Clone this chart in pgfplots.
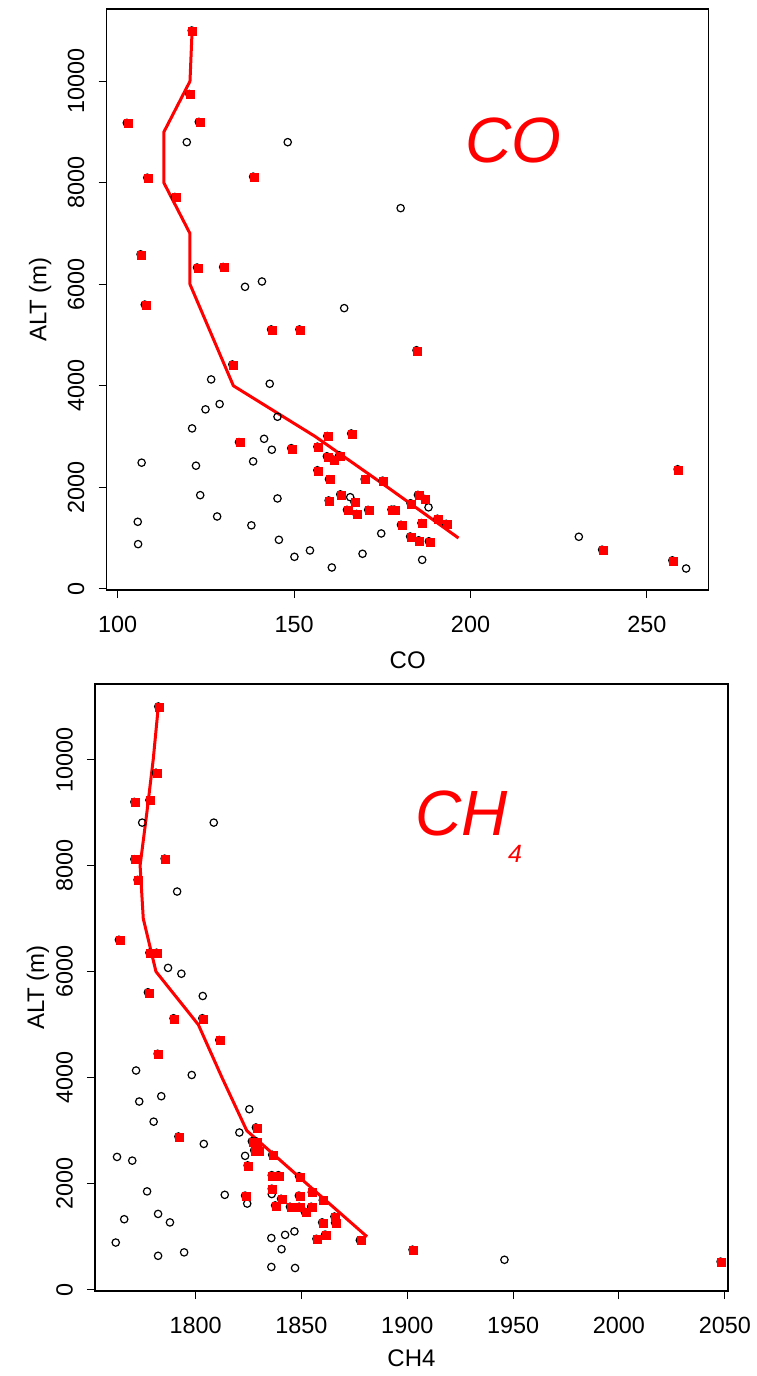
\documentclass[border=0pt]{standalone}
\usepackage{fontspec}
\setmainfont{Liberation Sans}
\usepackage{pgfplots}
\usepackage{pgfplotstable}
\pgfplotsset{compat=1.18}

% top panel: CO (ppb) against altitude
\pgfplotstableread{
x y
121.0 11000
120.3 9750
102.6 9180
123.0 9200
119.6 8800
148.2 8800
108.4 8100
138.4 8120
180.2 7500
116.2 7720
106.5 6590
122.5 6330
129.9 6340
140.9 6055
136.1 5950
107.7 5600
164.2 5530
143.5 5110
151.5 5110
184.7 4700
132.5 4420
126.5 4125
143.1 4040
128.9 3640
124.9 3535
145.3 3390
121.1 3160
159.4 3010
166.2 3060
134.4 2890
141.5 2955
143.7 2740
149.2 2770
156.6 2800
159.3 2610
161.1 2545
162.8 2630
106.8 2485
122.2 2425
138.4 2510
156.6 2335
159.9 2160
170.0 2160
175.1 2130
163.1 1860
165.9 1805
167.1 1710
145.3 1780
123.4 1845
159.8 1740
183.0 1685
185.1 1850
187.0 1770
188.1 1605
165.0 1555
167.7 1475
171.0 1555
177.6 1560
178.4 1560
128.2 1425
105.7 1320
137.9 1250
180.3 1260
186.1 1295
190.6 1380
193.1 1280
174.7 1090
105.8 880
145.7 965
182.9 1030
185.3 955
188.2 935
154.5 755
150.1 630
169.4 690
160.7 420
186.3 570
230.7 1025
237.3 770
257.2 560
261.1 400
258.7 2355
}\coall

\pgfplotstableread{
x y
121.0 11000
120.3 9750
102.6 9180
123.0 9200
108.4 8100
138.4 8120
116.2 7720
106.5 6590
122.5 6330
129.9 6340
107.7 5600
143.5 5110
151.5 5110
184.7 4700
132.5 4420
159.4 3010
166.2 3060
134.4 2890
149.2 2770
156.6 2800
159.3 2610
161.1 2545
162.8 2630
156.6 2335
159.9 2160
170.0 2160
175.1 2130
163.1 1860
167.1 1710
159.8 1740
183.0 1685
185.1 1850
187.0 1770
165.0 1555
167.7 1475
171.0 1555
177.6 1560
178.4 1560
180.3 1260
186.1 1295
190.6 1380
193.1 1280
182.9 1030
185.3 955
188.2 935
237.3 770
257.2 560
258.7 2355
}\cosq

\pgfplotstableread{
x y
196.6 1000
176.5 2000
156.0 3000
132.8 4000
120.5 6000
120.5 7000
113.1 8000
113.1 9000
120.5 10000
121.1 11000
}\coline

% bottom panel: CH4 (ppb) against altitude
\pgfplotstableread{
x y
1782.4 11000
1781.3 9750
1771.1 9200
1778.2 9235
1774.8 8810
1808.6 8810
1771.1 8120
1785.4 8130
1772.6 7730
1791.3 7510
1763.8 6600
1778.2 6355
1781.6 6355
1787.0 6070
1793.3 5960
1777.5 5610
1803.4 5540
1789.6 5120
1803.2 5120
1811.2 4710
1782.1 4450
1771.9 4135
1798.2 4050
1773.4 3550
1783.8 3650
1825.4 3405
1780.2 3170
1820.7 2965
1828.5 3060
1791.9 2890
1803.9 2750
1826.6 2800
1828.5 2800
1827.7 2630
1829.8 2630
1824.6 2345
1823.4 2525
1762.9 2505
1770.1 2435
1836.2 2545
1848.9 2140
1836.0 2160
1839.1 2160
1836.0 1905
1836.0 1805
1813.8 1790
1823.4 1775
1824.4 1625
1777.1 1855
1840.4 1715
1848.8 1775
1854.9 1840
1860.1 1690
1837.6 1590
1844.6 1565
1848.9 1565
1851.6 1470
1854.6 1565
1865.6 1380
1865.9 1265
1859.8 1270
1766.3 1330
1782.3 1430
1787.9 1270
1762.3 890
1782.3 640
1794.6 705
1835.8 975
1842.3 1035
1846.7 1100
1840.6 765
1835.8 430
1847.0 410
1857.1 960
1861.2 1040
1877.6 935
1902.5 755
1945.9 565
2048.0 530
}\chall

\pgfplotstableread{
x y
1782.4 11000
1781.3 9750
1771.1 9200
1778.2 9235
1771.1 8120
1785.4 8130
1772.6 7730
1763.8 6600
1778.2 6355
1781.6 6355
1777.5 5610
1789.6 5120
1803.2 5120
1811.2 4710
1782.1 4450
1828.5 3060
1791.9 2890
1826.6 2800
1828.5 2800
1827.7 2630
1829.8 2630
1824.6 2345
1836.2 2545
1848.9 2140
1836.0 2160
1839.1 2160
1836.0 1905
1823.4 1775
1840.4 1715
1848.8 1775
1854.9 1840
1860.1 1690
1837.6 1590
1844.6 1565
1848.9 1565
1851.6 1470
1854.6 1565
1865.6 1380
1865.9 1265
1859.8 1270
1857.1 960
1861.2 1040
1877.6 935
1902.5 755
2048.0 530
}\chsq

\pgfplotstableread{
x y
1881.0 1000
1852.5 2000
1824.2 3000
1812.5 4000
1801.3 5000
1781.3 6000
1775.3 7000
1773.8 8000
1777.0 9000
1780.0 10000
1782.4 11000
}\chline

\pgfplotsset{
  panel/.style={
    scale only axis, anchor=south west,
    axis line style={black, line width=0.6pt},
    tick pos=left, tick align=outside,
    major tick length=4pt,
    every tick/.style={black, line width=0.5pt},
    ytick={0,2000,...,10000},
    ymin=-24, ymax=11424,
    scaled ticks=false,
    /pgf/number format/assume math mode=true,
    /pgf/number format/1000 sep={},
    ticklabel style={font=\fontsize{11.7}{13}\selectfont},
    xticklabel style={yshift=-5.5pt},
    yticklabel style={xshift=-3.6pt, rotate=90, anchor=south},
    ylabel={ALT (m)},
    every axis x label/.style={at={(axis description cs:0.5,0)}, anchor=center,
      font=\fontsize{12}{14}\selectfont},
    every axis y label/.style={at={(axis description cs:0,0.5)}, anchor=center,
      font=\fontsize{12}{14}\selectfont},
  },
  circ/.style={only marks, mark=o, mark size=1.85pt, mark options={black, line width=0.6pt}},
  sq/.style={only marks, mark=square*, mark size=2.0pt,
    mark options={fill=red, draw=red, line width=0pt, xshift=0.6pt, yshift=-0.4pt}},
  prof/.style={red, line width=1.5pt, no marks, line join=round},
}

\begin{document}
\begin{tikzpicture}
\useasboundingbox (0,0) rectangle (378pt,-688pt);

\begin{axis}[panel,
  at={(53.35pt,-295pt)}, width=301pt, height=290.5pt,
  xmin=96.9, xmax=267.5, xtick={100,150,200,250},
  xlabel={CO},
  xlabel style={yshift=-35pt}, ylabel style={xshift=-33.3pt, rotate=90}]
\addplot[prof] table {\coline};
\addplot[circ] table {\coall};
\addplot[sq] table {\cosq};
\node[red, font=\fontsize{32}{34}\selectfont\itshape, anchor=center] at (axis cs:212.2,8841) {CO};
\end{axis}

\begin{axis}[panel,
  at={(47.5pt,-645.5pt)}, width=316.5pt, height=303.5pt,
  xmin=1752.5, xmax=2051.5, xtick={1800,1850,...,2050},
  xlabel={CH4},
  xlabel style={yshift=-33.5pt}, ylabel style={xshift=-28.5pt, rotate=90}]
\addplot[prof] table {\chline};
\addplot[circ] table {\chall};
\addplot[sq] table {\chsq};
\node[red, font=\fontsize{32}{34}\selectfont\itshape, anchor=base west, inner sep=0pt]
  at (axis cs:1903.8,8575) {CH\raisebox{-13.5pt}{\fontsize{12.5}{13}\selectfont 4}};
\end{axis}
\end{tikzpicture}
\end{document}
